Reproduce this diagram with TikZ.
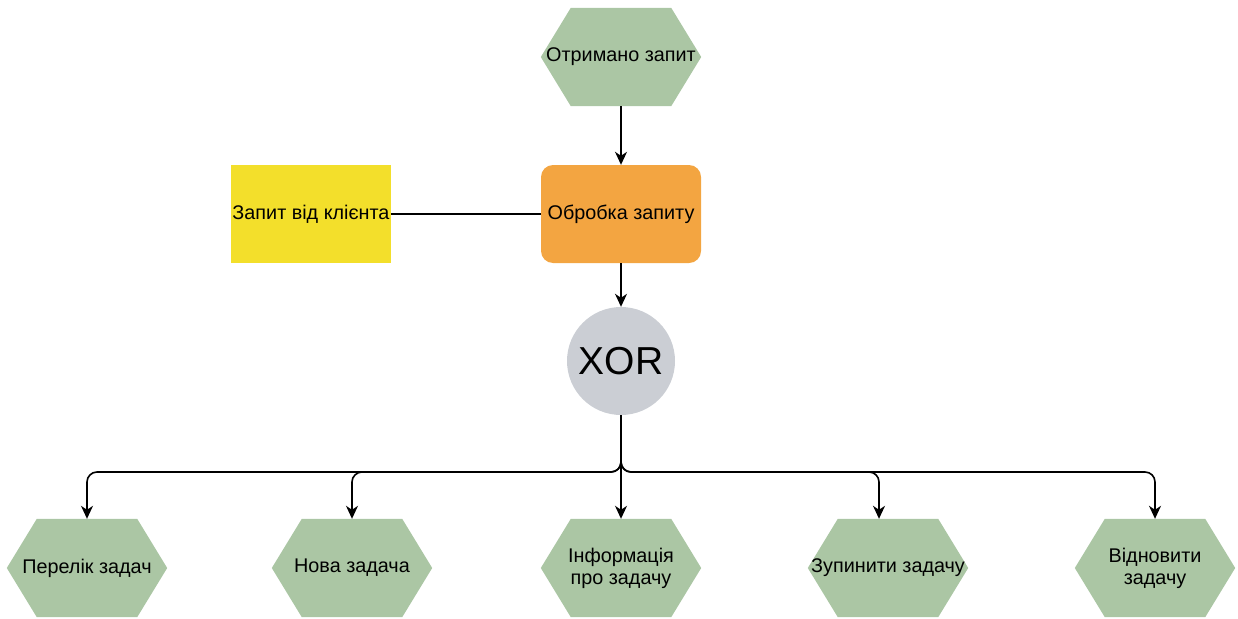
\documentclass[tikz,border=0pt]{standalone}
\usepackage{fontspec}
\setmainfont{Liberation Sans}
\usetikzlibrary{arrows.meta,backgrounds}

\definecolor{hexgreen}{HTML}{ABC6A4}
\definecolor{procorange}{HTML}{F3A541}
\definecolor{datayellow}{HTML}{F3DF2B}
\definecolor{gategray}{HTML}{CBCED4}

% green hexagon behind a named node
\newcommand\hexback[1]{%
  \begin{pgfonlayer}{background}
    \fill[hexgreen] (#1.west) -- ([xshift=30pt]#1.north west) -- ([xshift=-30pt]#1.north east)
      -- (#1.east) -- ([xshift=-30pt]#1.south east) -- ([xshift=30pt]#1.south west) -- cycle;
  \end{pgfonlayer}}

\tikzset{
  hexnode/.style={minimum width=160pt, minimum height=98pt, inner sep=0pt, align=center},
  procbox/.style={fill=procorange, rounded corners=12pt, minimum width=160pt, minimum height=98pt, inner sep=0pt, align=center},
  databox/.style={fill=datayellow, minimum width=160pt, minimum height=98pt, inner sep=0pt, align=center},
  gate/.style={circle, fill=gategray, minimum size=108pt, inner sep=0pt, font=\fontsize{39}{44}\selectfont},
  link/.style={line width=1.6pt, black},
  conn/.style={link, -{Stealth[length=13pt, width=12pt, inset=4pt]}},
}

\begin{document}
\begin{tikzpicture}[x=1pt, y=-1pt, font=\fontsize{19.8}{22}\selectfont]
  \useasboundingbox (0,0) rectangle (1238,618);

  % event, function and data object
  \node[hexnode] (start) at (621,57) {Отримано запит};
  \hexback{start}
  \node[procbox] (proc) at (621,214) {Обробка запиту};
  \node[databox] (client) at (311,214) {Запит від клієнта};
  \node[gate] (xor) at (621,361) {XOR};

  % outcome events
  \node[hexnode] (h1) at (87,568) {Перелік задач};
  \hexback{h1}
  \node[hexnode] (h2) at (352,568) {Нова задача};
  \hexback{h2}
  \node[hexnode] (h3) at (621,568) {Інформація\\про задачу};
  \hexback{h3}
  \node[hexnode] (h4) at (888,568) {Зупинити задачу};
  \hexback{h4}
  \node[hexnode] (h5) at (1155,568) {Відновити\\задачу};
  \hexback{h5}

  \coordinate (split) at (621,472);

  % connectors
  \draw[conn] (start) -- (proc);
  \draw[link] (client) -- (proc);
  \draw[conn] (proc) -- (xor);
  \draw[conn] (xor.south) -- (h3.north);
  \draw[conn, rounded corners=10pt] (xor.south) -- (split) -| (h1.north);
  \draw[conn, rounded corners=10pt] (xor.south) -- (split) -| (h2.north);
  \draw[conn, rounded corners=10pt] (xor.south) -- (split) -| ([xshift=-9pt]h4.north);
  \draw[conn, rounded corners=10pt] (xor.south) -- (split) -| (h5.north);
\end{tikzpicture}
\end{document}
